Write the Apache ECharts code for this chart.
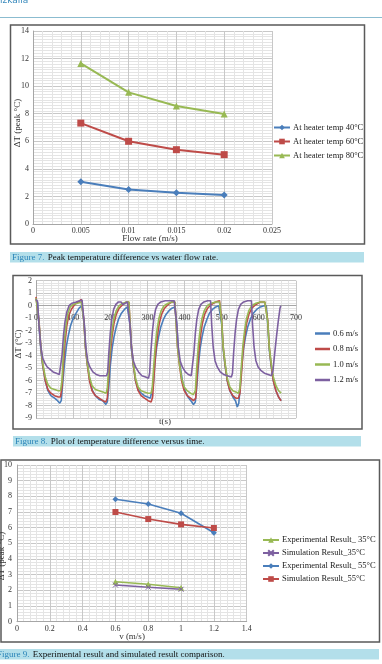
<!DOCTYPE html>
<html>
<head>
<meta charset="utf-8">
<script src="https://cdn.jsdelivr.net/npm/echarts@6/dist/echarts.min.js"></script>
<style>
html, body { margin: 0; padding: 0; background: #fff; }
#main { width: 382px; height: 664px; }
</style>
</head>
<body>
<div id="main"></div>
<script>
// figure 7 - peak temperature difference vs flow rate
var flowRate = [0.005, 0.01, 0.015, 0.02];
var heater40 = [3.07, 2.51, 2.27, 2.10];
var heater60 = [7.32, 6.00, 5.39, 5.03];
var heater80 = [11.65, 9.55, 8.56, 7.98];

// figure 8 - temperature difference vs time, [t, dT]
var speed06 = [
    [0,0.5],[4,0.3],[8,-1.5],[13,-3.5],[18,-4.8],[25,-6.0],[32,-6.8],[40,-7.2],[50,-7.4],[58,-7.6],[64,-7.8],[68,-7.6],[72,-6.2],[77,-4.5],[82,-3.2],[87,-2.4],[93,-1.6],[100,-1.0],[108,-0.6],[116,-0.2],[124,0.0],[127,0.0],
    [130,-1.5],[134,-3.5],[139,-4.8],[145,-6.0],[152,-6.8],[160,-7.2],[170,-7.5],[180,-7.6],[188,-7.9],[192,-7.7],[196,-6.5],[200,-4.8],[205,-3.4],[210,-2.5],[216,-1.7],[222,-1.1],[230,-0.6],[238,-0.3],[246,-0.1],[250,0.0],
    [253,-1.5],[257,-3.5],[262,-4.8],[268,-6.0],[275,-6.7],[283,-7.0],[292,-7.2],[300,-7.3],[308,-7.4],[312,-7.3],[316,-6.2],[320,-4.6],[325,-3.3],[330,-2.5],[336,-1.7],[343,-1.1],[350,-0.7],[358,-0.4],[366,-0.2],[374,-0.1],[376,-0.1],
    [379,-1.5],[383,-3.5],[388,-4.8],[394,-6.0],[401,-6.8],[409,-7.3],[417,-7.6],[424,-7.9],[429,-7.7],[433,-6.4],[437,-4.8],[442,-3.4],[447,-2.5],[453,-1.7],[460,-1.1],[467,-0.6],[475,-0.3],[484,-0.1],[492,0.0],[497,0.0],
    [500,-1.5],[504,-3.5],[509,-4.8],[515,-6.0],[522,-6.8],[530,-7.3],[537,-7.6],[542,-8.1],[546,-7.8],[550,-6.4],[554,-4.8],[559,-3.4],[564,-2.5],[570,-1.7],[577,-1.1],[585,-0.6],[594,-0.3],[604,-0.1],[614,0.0],[620,0.0],
    [624,-1.5],[628,-3.5],[633,-4.8],[639,-6.0],[646,-6.8],[653,-7.3],[660,-7.6]
];
var speed08 = [
    [0,0.7],[4,0.6],[8,-1.2],[13,-3.3],[18,-4.7],[25,-6.0],[32,-6.7],[40,-7.0],[50,-7.2],[60,-7.3],[66,-7.3],[70,-6.5],[74,-4.6],[78,-3.0],[83,-1.6],[88,-0.8],[95,-0.3],[104,0.1],[114,0.3],[122,0.5],[126,0.5],
    [129,-1.2],[133,-3.3],[138,-4.7],[144,-6.0],[151,-6.8],[160,-7.2],[170,-7.4],[180,-7.6],[188,-7.7],[192,-7.4],[196,-5.5],[200,-3.8],[205,-2.4],[210,-1.4],[216,-0.7],[224,-0.2],[234,0.1],[244,0.3],[250,0.3],
    [253,-1.2],[257,-3.3],[262,-4.7],[268,-6.0],[275,-6.8],[283,-7.2],[292,-7.4],[302,-7.6],[310,-7.7],[314,-7.3],[318,-5.5],[322,-3.8],[327,-2.4],[332,-1.4],[338,-0.7],[346,-0.2],[356,0.1],[366,0.3],[374,0.3],
    [377,-1.2],[381,-3.3],[386,-4.7],[392,-6.0],[399,-6.8],[407,-7.2],[416,-7.4],[424,-7.6],[430,-7.4],[434,-5.5],[438,-3.8],[443,-2.4],[448,-1.4],[454,-0.7],[462,-0.2],[472,0.1],[484,0.3],[494,0.4],[497,0.4],
    [500,-1.2],[504,-3.3],[509,-4.7],[515,-6.0],[522,-6.8],[530,-7.2],[538,-7.4],[545,-7.4],[549,-7.0],[553,-5.5],[557,-3.8],[562,-2.4],[567,-1.4],[573,-0.7],[581,-0.2],[592,0.1],[604,0.3],[616,0.3],[621,0.3],
    [624,-1.2],[628,-3.3],[633,-4.7],[639,-6.0],[646,-6.8],[653,-7.3],[660,-7.6]
];
var speed10 = [
    [0,0.6],[4,0.5],[8,-1.3],[13,-3.3],[18,-4.6],[25,-5.7],[32,-6.3],[40,-6.6],[50,-6.7],[60,-6.8],[66,-6.8],[70,-6.0],[73,-4.2],[77,-2.6],[81,-1.5],[86,-0.6],[92,-0.1],[100,0.1],[112,0.2],[122,0.3],[126,0.3],
    [129,-1.3],[133,-3.3],[138,-4.6],[144,-5.7],[151,-6.4],[160,-6.7],[170,-6.8],[180,-6.9],[189,-7.0],[192,-6.6],[196,-4.8],[200,-3.2],[205,-1.9],[210,-1.0],[216,-0.4],[224,0.0],[234,0.2],[244,0.3],[250,0.3],
    [253,-1.3],[257,-3.3],[262,-4.6],[268,-5.8],[275,-6.5],[283,-6.8],[292,-6.9],[302,-7.0],[310,-7.0],[313,-6.6],[317,-4.8],[321,-3.2],[326,-1.9],[331,-1.0],[337,-0.4],[345,0.0],[356,0.2],[366,0.3],[374,0.3],
    [377,-1.3],[381,-3.3],[386,-4.6],[392,-5.8],[399,-6.5],[407,-6.8],[416,-7.0],[424,-7.1],[429,-6.8],[433,-4.8],[437,-3.2],[442,-1.9],[447,-1.0],[453,-0.4],[461,0.0],[472,0.2],[484,0.3],[494,0.3],[497,0.3],
    [500,-1.3],[504,-3.3],[509,-4.6],[515,-5.8],[522,-6.5],[530,-6.8],[538,-6.9],[545,-7.0],[549,-6.6],[553,-4.8],[557,-3.2],[562,-1.9],[567,-1.0],[573,-0.4],[581,0.0],[592,0.2],[604,0.3],[616,0.3],[621,0.3],
    [624,-1.3],[628,-3.3],[633,-4.6],[639,-5.7],[646,-6.4],[653,-6.8],[660,-7.0]
];
var speed12 = [
    [0,0.5],[4,0.3],[8,-1.5],[13,-3.3],[18,-4.2],[24,-4.6],[30,-4.9],[38,-5.1],[46,-5.3],[55,-5.4],[63,-5.5],[67,-5.4],[70,-4.0],[74,-2.4],[78,-1.3],[83,-0.5],[89,0.0],[97,0.2],[108,0.3],[118,0.4],[124,0.45],[127,0.45],
    [130,-1.5],[134,-3.3],[139,-4.4],[145,-4.9],[153,-5.3],[162,-5.5],[172,-5.6],[182,-5.6],[190,-5.6],[193,-5.3],[196,-3.8],[200,-2.2],[204,-1.1],[209,-0.3],[215,0.1],[222,0.3],[229,0.3],[234,0.1],[240,0.2],[246,0.3],[250,0.3],
    [253,-1.5],[257,-3.3],[262,-4.4],[268,-4.9],[276,-5.3],[285,-5.6],[295,-5.7],[303,-5.8],[306,-5.4],[309,-3.8],[313,-2.2],[317,-1.1],[322,-0.3],[328,0.1],[336,0.3],[348,0.4],[360,0.4],[372,0.4],[376,0.4],
    [379,-1.5],[383,-3.3],[388,-4.4],[394,-4.9],[402,-5.3],[410,-5.5],[418,-5.6],[422,-5.5],[425,-3.8],[429,-2.2],[433,-1.1],[438,-0.3],[444,0.1],[452,0.3],[462,0.4],[470,0.4],
    [473,-1.5],[477,-3.3],[482,-4.4],[488,-4.9],[496,-5.3],[505,-5.5],[515,-5.6],[526,-5.7],[529,-5.4],[532,-3.8],[536,-2.2],[540,-1.1],[545,-0.3],[551,0.1],[559,0.3],[570,0.4],[580,0.4],
    [583,-1.5],[587,-3.3],[592,-4.4],[598,-4.9],[606,-5.2],[615,-5.4],[625,-5.5],[634,-5.6],[638,-5.2],[642,-4.0],[647,-2.6],[652,-1.3],[657,-0.2],[659,0.0]
];

// figure 9 - experimental vs simulation
var velocity = [0.6, 0.8, 1.0, 1.2];
var exp35 = [2.55, 2.39, 2.17];
var sim35 = [2.34, 2.20, 2.07];
var exp55 = [7.81, 7.51, 6.92, 5.68];
var sim55 = [7.00, 6.55, 6.21, 5.98];

var BLUE = '#4a7ebb', RED = '#be4b48', GREEN = '#98b954', PURPLE = '#7d60a0';
var SERIF = 'Liberation Serif';

var zip = function(xs, ys) {
    var out = [];
    for (var i = 0; i < ys.length; i++) {
        out.push([xs[i], ys[i]]);
    }
    return out;
};

// shared axis look
var axisBase = function(grid, min, max, interval, minorX) {
    return {
        type: 'value', gridIndex: grid, min: min, max: max, interval: interval,
        axisTick: { show: false },
        axisLine: { show: true, onZero: false, lineStyle: { color: '#a6a6a6', width: 1 } },
        axisLabel: { fontFamily: SERIF, fontSize: 8, color: '#333' },
        splitLine: { show: true, lineStyle: { color: '#c8c8c8', width: 1 } },
        minorTick: { show: false, splitNumber: minorX },
        minorSplitLine: { show: true, lineStyle: { color: '#e4e4e4', width: 1 } }
    };
};

var x1 = axisBase(0, 0, 0.025, 0.005, 5);
x1.axisLabel.margin = 3;
x1.axisLabel.formatter = function(v) { return String(+v.toFixed(3)); };
var y1 = axisBase(0, 0, 14, 2, 10);
y1.axisLabel.margin = 4;

// time axis sits on the zero line: push it up from the bottom of the grid
var x2 = axisBase(1, 0, 700, 100, 5);
x2.offset = -112.5;
x2.axisLabel.margin = 8;
var y2 = axisBase(1, -9, 2, 1, 5);
y2.axisLabel.margin = 4;

var x3 = axisBase(2, 0, 1.4, 0.2, 5);
x3.axisLabel.margin = 3;
x3.axisLabel.formatter = function(v) { return String(+v.toFixed(1)); };
var y3 = axisBase(2, 0, 10, 1, 5);
y3.axisLabel.margin = 5;

var legendBase = function(names, left, top, gap) {
    return {
        data: names, orient: 'vertical', left: left, top: top, padding: 0,
        itemWidth: 16, itemHeight: 7, itemGap: gap,
        textStyle: { fontFamily: SERIF, fontSize: 8.5, color: '#222', padding: [0, 0, 0, -2] }
    };
};

var caption = function(x, y, w, num, body) {
    return [
        { type: 'rect', shape: { x: x, y: y, width: w, height: 10.5 }, style: { fill: '#b3dfea' } },
        { type: 'text', x: x + 2, y: y + 5.5, style: {
            text: '{a|Figure ' + num + '.} {b|' + body + '}',
            verticalAlign: 'middle',
            rich: {
                a: { fontFamily: SERIF, fontSize: 9, fill: '#2b84b8' },
                b: { fontFamily: SERIF, fontSize: 9, fill: '#111' }
            }
        } }
    ];
};

var frame = function(x, y, w, h) {
    return { type: 'rect', shape: { x: x, y: y, width: w, height: h },
        style: { fill: 'none', stroke: '#5a5a5a', lineWidth: 1.5 } };
};

var axisName = function(text, x, y, rot) {
    return { type: 'text', x: x, y: y, rotation: rot ? Math.PI / 2 : 0,
        style: { text: text, fontFamily: SERIF, fontSize: 9, fill: '#333', align: 'center', verticalAlign: 'middle' } };
};

var graphics = [
    { type: 'text', x: 0, y: 1, style: { text: 'izkalla', fontFamily: 'DejaVu Sans', fontSize: 9, fill: '#3a8bbd', verticalAlign: 'middle' } },
    { type: 'line', shape: { x1: 0, y1: 17.5, x2: 382, y2: 17.5 }, style: { stroke: '#8bbcd0', lineWidth: 1.2 } },
    frame(10.5, 25, 354, 219),
    frame(13, 275.5, 349, 153.5),
    frame(1, 460, 378.5, 182),
    axisName('\u0394T (peak \u00b0C)', 18, 123, true),
    axisName('Flow rate (m/s)', 150, 239, false),
    axisName('\u0394T (\u00b0C)', 19, 344, true),
    axisName('t(s)', 165, 422, false),
    axisName('\u0394T (peak \u00b0C)', 2, 556, true),
    axisName('v (m/s)', 132, 636.5, false)
].concat(
    caption(10, 252, 354, 7, 'Peak temperature difference vs water flow rate.'),
    caption(13, 436, 348, 8, 'Plot of temperature difference versus time.'),
    caption(0, 649, 379, 9, 'Experimental result and simulated result comparison.')
);
graphics[graphics.length - 1].x = -3;

var legend2 = legendBase(['0.6 m/s', '0.8 m/s', '1.0 m/s', '1.2 m/s'], 315, 329, 6.5);
legend2.icon = 'rect';
legend2.itemWidth = 15;
legend2.itemHeight = 2.5;

var chart = echarts.init(document.getElementById('main'));
chart.setOption({
    animation: false,
    backgroundColor: '#fff',
    grid: [
        { left: 33, top: 31, width: 239, height: 193 },
        { left: 36, top: 280.7, width: 260, height: 137.5 },
        { left: 17, top: 465, width: 229.7, height: 156.7 }
    ],
    xAxis: [x1, x2, x3],
    yAxis: [y1, y2, y3],
    legend: [
        legendBase(['At heater temp 40\u00b0C', 'At heater temp 60\u00b0C', 'At heater temp 80\u00b0C'], 273, 123, 5),
        legend2,
        legendBase(['Experimental Result_ 35\u00b0C', 'Simulation Result_35\u00b0C', 'Experimental Result_ 55\u00b0C', 'Simulation Result_55\u00b0C'], 262, 535.5, 4)
    ],
    graphic: graphics,
    series: [
        { name: 'At heater temp 40\u00b0C', type: 'line', xAxisIndex: 0, yAxisIndex: 0, data: zip(flowRate, heater40),
          color: BLUE, symbol: 'diamond', symbolSize: 7, lineStyle: { width: 2 } },
        { name: 'At heater temp 60\u00b0C', type: 'line', xAxisIndex: 0, yAxisIndex: 0, data: zip(flowRate, heater60),
          color: RED, symbol: 'rect', symbolSize: 7, lineStyle: { width: 2 } },
        { name: 'At heater temp 80\u00b0C', type: 'line', xAxisIndex: 0, yAxisIndex: 0, data: zip(flowRate, heater80),
          color: GREEN, symbol: 'triangle', symbolSize: 7, lineStyle: { width: 2 } },

        { name: '0.6 m/s', type: 'line', xAxisIndex: 1, yAxisIndex: 1, data: speed06, color: BLUE, showSymbol: false, symbol: 'none', lineStyle: { width: 1.6 } },
        { name: '0.8 m/s', type: 'line', xAxisIndex: 1, yAxisIndex: 1, data: speed08, color: RED, showSymbol: false, symbol: 'none', lineStyle: { width: 1.6 } },
        { name: '1.0 m/s', type: 'line', xAxisIndex: 1, yAxisIndex: 1, data: speed10, color: GREEN, showSymbol: false, symbol: 'none', lineStyle: { width: 1.6 } },
        { name: '1.2 m/s', type: 'line', xAxisIndex: 1, yAxisIndex: 1, data: speed12, color: PURPLE, showSymbol: false, symbol: 'none', lineStyle: { width: 1.6 } },

        { name: 'Experimental Result_ 35\u00b0C', type: 'line', xAxisIndex: 2, yAxisIndex: 2, data: zip(velocity, exp35),
          color: GREEN, symbol: 'triangle', symbolSize: 6, lineStyle: { width: 1.6 } },
        { name: 'Simulation Result_35\u00b0C', type: 'line', xAxisIndex: 2, yAxisIndex: 2, data: zip(velocity, sim35),
          color: PURPLE, symbol: 'path://M0,0L10,10M10,0L0,10', symbolSize: 5,
          itemStyle: { borderColor: PURPLE, borderWidth: 1 }, lineStyle: { width: 1.6 } },
        { name: 'Experimental Result_ 55\u00b0C', type: 'line', xAxisIndex: 2, yAxisIndex: 2, data: zip(velocity, exp55),
          color: BLUE, symbol: 'diamond', symbolSize: 6, lineStyle: { width: 1.6 } },
        { name: 'Simulation Result_55\u00b0C', type: 'line', xAxisIndex: 2, yAxisIndex: 2, data: zip(velocity, sim55),
          color: RED, symbol: 'rect', symbolSize: 6, lineStyle: { width: 1.6 } }
    ]
});
</script>
</body>
</html>
